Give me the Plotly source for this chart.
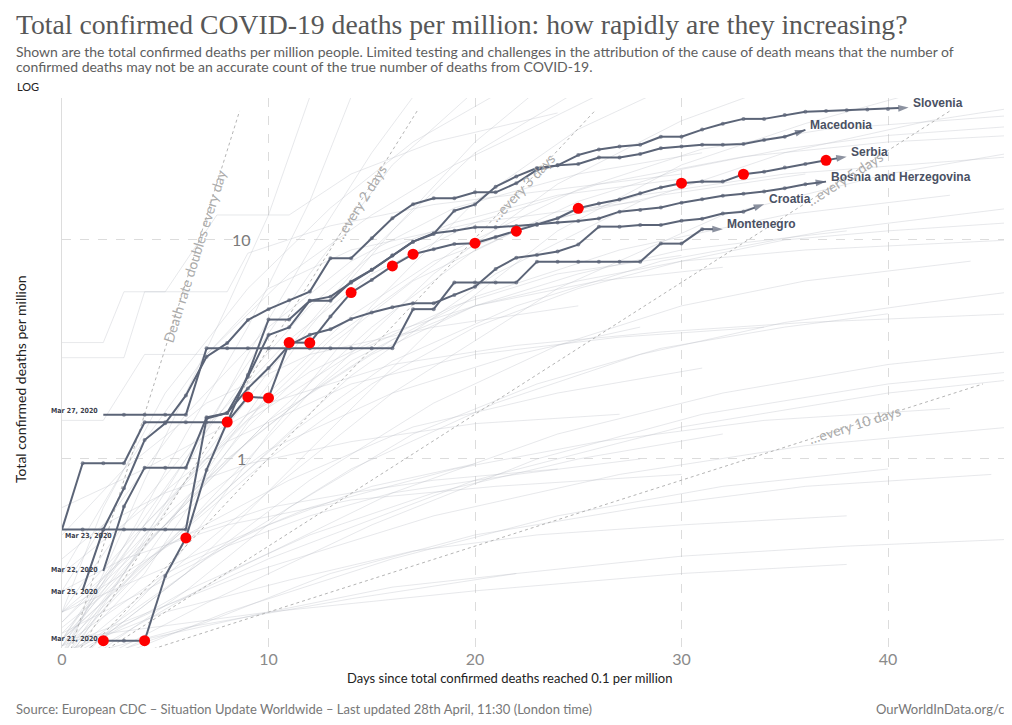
import plotly.graph_objects as go
import math

# ---------------- data ----------------
slovenia_days = list(range(0, 42))
slovenia_vals = [0.477, 0.956, 0.956, 0.956, 1.47, 1.47, 1.47, 1.47, 1.47, 2.42,
                 4.33, 4.33, 5.28, 5.51, 6.38, 7.30, 8.48, 9.82, 10.65, 13.6,
                 14.5, 17.5, 19.5, 21.3, 21.9, 24.4, 25.9, 26.7, 27.2, 29.6,
                 29.6, 31.9, 33.9, 35.7, 35.7, 37.2, 38.5, 38.8, 39.1, 39.4,
                 39.6, 40.2]

macedonia_days = list(range(1, 37))
macedonia_vals = [0.252, 0.477, 0.735, 1.22, 1.455, 1.95, 2.93, 3.38, 4.31, 4.83,
                  5.30, 5.81, 8.25, 8.25, 10.18, 12.56, 14.55, 15.5, 15.5, 16.5,
                  16.5, 18.15, 20.9, 21.9, 22.2, 23.8, 23.8, 24.7, 26.2, 26.7,
                  27.2, 27.2, 27.4, 28.6, 29.6, 31.8]

serbia_days = list(range(2, 39))
serbia_vals = [0.148, 0.148, 0.148, 0.292, 0.436, 0.891, 1.475, 1.92, 1.90, 3.40,
               3.39, 4.47, 5.75, 6.57, 7.61, 8.61, 9.07, 9.59, 9.66, 10.32,
               10.96, 11.7, 12.56, 13.95, 14.68, 15.3, 16.34, 17.37, 18.15, 18.46,
               18.46, 19.95, 20.5, 21.4, 22.2, 23.1, 24.0]
serbia_highlight_days = [2, 4, 6, 8, 9, 10, 11, 12, 14, 16, 17, 20, 22, 25, 30, 33, 37]

bosnia_days = list(range(2, 38))
bosnia_vals = [0.308, 0.606, 0.913, 0.913, 0.913, 1.55, 1.62, 2.37, 3.68, 3.99,
               5.28, 5.28, 6.45, 7.30, 8.48, 9.82, 10.73, 11.02, 11.43, 11.43,
               11.59, 11.83, 12.02, 12.2, 12.53, 13.46, 13.71, 14.07, 14.8, 15.34,
               15.93, 16.27, 16.62, 17.22, 17.96, 18.46]

croatia_days = list(range(0, 35))
croatia_vals = [0.477, 0.477, 0.477, 0.477, 0.477, 0.477, 0.477, 1.53, 1.62, 2.1,
                2.60, 3.31, 3.69, 3.91, 4.36, 4.66, 4.93, 5.14, 5.14, 5.61,
                6.12, 7.37, 8.30, 8.54, 8.86, 9.52, 11.5, 11.5, 11.7, 11.7,
                12.24, 12.5, 13.2, 13.46, 14.55]

montenegro_days = list(range(2, 33))
montenegro_vals = [1.59, 1.59, 1.59, 1.59, 1.59, 3.2, 3.2, 3.2, 3.2, 3.2,
                   3.2, 3.2, 3.2, 3.2, 3.2, 4.83, 4.83, 6.4, 6.4, 6.4,
                   6.4, 7.96, 7.96, 7.96, 7.96, 7.96, 7.96, 9.62, 9.62, 11.2,
                   11.2]

countries = ["Slovenia", "Macedonia", "Serbia", "Bosnia and Herzegovina", "Croatia", "Montenegro"]
country_days = [slovenia_days, macedonia_days, serbia_days, bosnia_days, croatia_days, montenegro_days]
country_vals = [slovenia_vals, macedonia_vals, serbia_vals, bosnia_vals, croatia_vals, montenegro_vals]

start_labels = ["Mar 27, 2020", "Mar 23, 2020", "Mar 22, 2020", "Mar 25, 2020", "Mar 21, 2020"]

doubling_periods = [1, 2, 3, 5, 10]
doubling_labels = ["Death rate doubles every day", "…every 2 days", "…every 3 days",
                   "…every 5 days", "…every 10 days"]
doubling_end_days = [8.6, 17.2, 25.8, 43.0, 44.6]
doubling_label_days = [6.4, 14.4, 22.3, 37.9, 38.4]
doubling_start_value = 0.1

# other countries (background), knots of (day, value)
bg_days = [
    [0, 2, 4, 6, 8, 10, 12], [0, 3, 6, 9, 12, 14], [0, 3, 6, 9, 12, 15, 17],
    [0, 4, 8, 12, 16, 20], [0, 4, 8, 12, 16, 20, 23], [0, 5, 10, 15, 20, 25],
    [0, 5, 10, 15, 20, 25, 29], [0, 6, 12, 18, 24, 30, 34], [0, 6, 12, 18, 24, 30, 36, 41],
    [0, 7, 14, 21, 28, 35, 42, 46], [1, 7, 13, 19, 25, 31, 37, 46],
    [0, 5, 10, 15, 20, 25, 30, 35, 40, 46], [0, 8, 16, 24, 32, 40, 46],
    [0, 2, 5, 9, 13, 17, 21], [0, 3, 7, 11, 15, 19, 22, 26],
    [0, 2, 3, 5, 7.5, 11, 14, 18, 24], [0, 3, 4, 8, 9, 13, 18, 24, 30],
    [0, 2, 4, 7, 10, 14, 20, 28],
    [0, 5, 10, 15, 20, 25, 30, 35, 40, 46], [0, 4, 8, 12, 16, 20, 25, 30, 36, 46],
    [0, 6, 12, 18, 24, 30, 36, 44], [0, 5, 10, 15, 20, 25, 30, 38],
    [0, 3, 6, 9, 12, 16, 20, 26, 32], [0, 4, 9, 14, 19, 24, 30],
    [0, 7, 14, 21, 28, 35, 42, 46], [0, 6, 11, 17, 23, 29, 35, 40],
    [0, 5, 10, 16, 22, 28], [0, 8, 16, 24, 32, 40, 46], [0, 10, 20, 30, 40, 46],
    [0, 4, 8, 14, 20, 27, 34], [0, 3, 7, 12, 18, 25], [0, 4, 10, 16, 22, 29, 36, 46],
    [0, 6, 12, 18, 25, 32], [0, 5, 10, 15, 20], [0, 8, 16, 24, 32, 40],
    [0, 4, 8, 12, 16, 22, 28], [0, 7, 13, 20, 28, 36, 45], [0, 3, 6, 10, 14, 18, 24],
    [0, 5, 11, 17, 23, 30, 38], [0, 6, 14, 22, 30, 38, 46], [0, 4, 10, 16, 22],
    [0, 10, 20, 30, 38], [0, 3, 8, 14, 21, 30], [0, 2, 5, 9, 14, 20, 27],
    [0, 6, 12, 19, 26, 34, 43], [0, 9, 18, 27, 36, 46], [0, 5, 11, 17, 24, 31],
    [0, 7, 15, 23, 31, 40, 46],
    [0, 3, 6, 9, 12, 15, 19, 24, 30], [0, 4, 7, 10, 14, 18, 23, 29, 36],
    [0, 5, 9, 13, 17, 22, 28, 35, 46], [0, 3, 7, 11, 15, 20, 26, 33, 40, 46],
    [0, 2, 6, 10, 14, 19, 25, 31], [0, 4, 9, 14, 20, 27, 35, 43],
    [0, 6, 11, 16, 22, 29, 37, 46],
]
bg_vals = [
    [0.12, 0.3, 0.8, 2, 5, 13, 45], [0.13, 0.4, 1.3, 4, 15, 45], [0.11, 0.3, 0.9, 3, 9, 25, 45],
    [0.15, 0.5, 2, 7, 22, 48], [0.12, 0.35, 1.2, 4, 11, 28, 48], [0.14, 0.6, 2.5, 9, 25, 48],
    [0.1, 0.3, 1.3, 5, 15, 32, 48], [0.13, 0.5, 2, 7, 18, 35, 48], [0.11, 0.3, 1.1, 4, 11, 22, 34, 46],
    [0.14, 0.6, 2.4, 7, 15, 25, 35, 40], [0.25, 1, 3.5, 9, 17, 26, 32, 37],
    [0.16, 0.5, 1.5, 4, 9, 15, 21, 26, 30, 33], [0.12, 0.5, 2, 6, 13, 20, 25],
    [0.2, 0.6, 2, 6, 14, 28, 46], [0.3, 0.9, 3, 7, 13, 22, 30, 46],
    [3.4, 3.4, 5.8, 5.8, 13, 13, 20, 28, 38], [2.9, 2.9, 5.8, 5.8, 8.7, 11.6, 14.5, 17, 20],
    [1.5, 1.5, 3, 3, 6, 9, 12, 15],
    [0.15, 0.4, 1, 2.2, 4, 6, 8, 10, 11, 12], [0.13, 0.4, 1, 2, 3.5, 5, 6.5, 8, 9, 10],
    [0.11, 0.3, 0.8, 1.8, 3.3, 5, 6.5, 8], [0.2, 0.5, 1.5, 3, 5, 7, 9, 11],
    [0.12, 0.3, 0.8, 1.6, 2.5, 3.8, 5, 6.5, 7.5], [0.14, 0.5, 1.5, 3, 5, 7, 8.5],
    [0.12, 0.35, 0.9, 1.8, 3, 4.2, 5.2, 5.8], [0.1, 0.25, 0.6, 1.3, 2.2, 3.2, 4, 4.6],
    [0.18, 0.5, 1.1, 2, 3, 4], [0.11, 0.3, 0.7, 1.3, 2, 2.7, 3.1], [0.13, 0.35, 0.8, 1.4, 2, 2.3],
    [0.3, 0.6, 1.2, 2.2, 3, 3.6, 4], [0.45, 0.9, 1.8, 3, 4, 5], [0.6, 0.9, 1.8, 2.7, 3.3, 3.8, 4.2, 4.6],
    [0.12, 0.25, 0.45, 0.7, 1, 1.3], [0.14, 0.3, 0.5, 0.75, 0.95], [0.1, 0.2, 0.35, 0.55, 0.75, 0.9],
    [0.16, 0.25, 0.4, 0.55, 0.7, 0.85, 1], [0.11, 0.18, 0.3, 0.45, 0.6, 0.75, 0.85], [0.2, 0.3, 0.45, 0.6, 0.7, 0.8, 0.9],
    [0.13, 0.2, 0.28, 0.38, 0.45, 0.5, 0.55], [0.12, 0.17, 0.23, 0.3, 0.36, 0.4, 0.43], [0.1, 0.15, 0.2, 0.26, 0.3],
    [0.15, 0.2, 0.25, 0.3, 0.33], [0.25, 0.35, 0.5, 0.65, 0.75, 0.85], [0.35, 0.5, 0.7, 0.95, 1.2, 1.45, 1.6],
    [0.2, 0.35, 0.6, 0.9, 1.2, 1.5, 1.7], [0.14, 0.3, 0.55, 0.85, 1.15, 1.4], [0.17, 0.4, 0.8, 1.4, 2, 2.6],
    [0.1, 0.22, 0.5, 1, 1.6, 2.2, 2.5],
    [0.15, 0.4, 1, 2.4, 5, 8.5, 12, 16, 19], [0.12, 0.3, 0.8, 2, 4.5, 8, 12, 16, 20],
    [0.15, 0.5, 1.4, 3.3, 6.5, 11, 16, 20, 24], [0.2, 0.5, 1.4, 3.5, 7, 12, 18, 24, 28, 30],
    [0.25, 0.5, 1.6, 4, 8, 14, 20, 25], [0.18, 0.45, 1.2, 2.8, 5.5, 9, 13, 16],
    [0.15, 0.5, 1.3, 2.8, 5, 8, 11, 14],
]

x_ticks = [0, 10, 20, 30, 40]
y_ticks = [1, 10]

# ---------------- geometry (screen pixels; the page body adds an 8px offset) ----------------
OFF = 8
W, H = 1012 - OFF, 725 - OFF
PLOT_LEFT, PLOT_RIGHT, PLOT_TOP, PLOT_BOTTOM = 62, 1008, 98, 648  # screen px
L = PLOT_LEFT - OFF
R = W - (PLOT_RIGHT - OFF)
T = PLOT_TOP - OFF
B = H - (PLOT_BOTTOM - OFF)
plot_w = PLOT_RIGHT - PLOT_LEFT
plot_h = PLOT_BOTTOM - PLOT_TOP
PX_PER_DAY = 20.65
X_MAX = plot_w / PX_PER_DAY
Y_LOG_MIN, Y_LOG_MAX = -0.863, 1.648


def px_x(px):
    return (px - PLOT_LEFT) / plot_w


def px_y(py):
    return (PLOT_BOTTOM - py) / plot_h


LINE_COLOR = "#5b6477"
LABEL_COLOR = "#4a5163"
BG_COLOR = "rgba(185,188,195,0.34)"

fig = go.Figure()

for d, v in zip(bg_days, bg_vals):
    fig.add_trace(go.Scatter(x=d, y=v, mode="lines", line=dict(color=BG_COLOR, width=1),
                             hoverinfo="skip", showlegend=False))

for per, end in zip(doubling_periods, doubling_end_days):
    fig.add_trace(go.Scatter(x=[0, end], y=[doubling_start_value, doubling_start_value * 2 ** (end / per)],
                             mode="lines", line=dict(color="#b5b5b5", width=1, dash="dot"),
                             hoverinfo="skip", showlegend=False))

for name, d, v in zip(countries, country_days, country_vals):
    n = len(d)
    fig.add_trace(go.Scatter(
        x=d, y=v, mode="lines+markers", name=name,
        line=dict(color=LINE_COLOR, width=2),
        marker=dict(color=LINE_COLOR, size=[4] * (n - 1) + [11],
                    symbol=["circle"] * (n - 1) + ["arrow"], angleref="previous",
                    line=dict(width=0)),
        showlegend=False))

hl_vals = [serbia_vals[serbia_days.index(dd)] for dd in serbia_highlight_days]
fig.add_trace(go.Scatter(x=serbia_highlight_days, y=hl_vals, mode="markers",
                         marker=dict(color="#ff0000", size=11), showlegend=False))

ann = []
# country labels
for name, d, v in zip(countries, country_days, country_vals):
    ann.append(dict(x=d[-1] + 0.12, y=math.log10(v[-1]), xref="x", yref="y", text=f"<b>{name}</b>",
                    showarrow=False, xanchor="left", yanchor="middle", yshift=5,
                    font=dict(family="Liberation Sans, Arial", size=12, color=LABEL_COLOR)))

# start-date labels
label_pos = [(100, 411, "right"), (63, 536, "left"), (100, 570, "right"), (100, 592, "right"), (100, 639, "right")]
for txt, (lx, ly, anc) in zip(start_labels, label_pos):
    ann.append(dict(x=px_x(lx), y=px_y(ly), xref="paper", yref="paper", text=f"<b>{txt}</b>", showarrow=False,
                    xanchor=anc, yanchor="middle",
                    font=dict(family="DejaVu Sans Condensed, DejaVu Sans", size=7, color="#3a404c")))

# doubling labels along the reference lines
for per, txt, dd in zip(doubling_periods, doubling_labels, doubling_label_days):
    slope_px = math.log10(2) / per * (plot_h / (Y_LOG_MAX - Y_LOG_MIN)) / PX_PER_DAY
    ang = -math.degrees(math.atan(slope_px))
    ann.append(dict(x=dd, y=math.log10(doubling_start_value) + math.log10(2) * dd / per, xref="x", yref="y",
                    text=txt, showarrow=False, textangle=ang, xanchor="center", yanchor="middle",
                    font=dict(family="Lato", size=14, color="#ababab")))

# y tick labels placed inside the plot
for tv in y_ticks:
    ann.append(dict(x=px_x(241), y=math.log10(tv), xref="paper", yref="y", text=str(tv), showarrow=False,
                    xanchor="center", yanchor="middle", font=dict(family="Lato", size=16, color="#7a7a7a")))

# titles and notes
ann.append(dict(x=px_x(14), y=px_y(25), xref="paper", yref="paper", xanchor="left", yanchor="middle",
                text="Total confirmed COVID-19 deaths per million: how rapidly are they increasing?",
                showarrow=False, font=dict(family="Liberation Serif", size=27.7, color="#575757")))
ann.append(dict(x=px_x(14), y=px_y(51), xref="paper", yref="paper", xanchor="left", yanchor="middle",
                text="Shown are the total confirmed deaths per million people. Limited testing and challenges in the attribution of the cause of death means that the number of",
                showarrow=False, font=dict(family="Lato", size=14, color="#5e5e5e")))
ann.append(dict(x=px_x(14), y=px_y(67), xref="paper", yref="paper", xanchor="left", yanchor="middle",
                text="confirmed deaths may not be an accurate count of the true number of deaths from COVID-19.",
                showarrow=False, font=dict(family="Lato", size=14, color="#5e5e5e")))
ann.append(dict(x=px_x(15), y=px_y(87), xref="paper", yref="paper", xanchor="left", yanchor="middle",
                text="LOG", showarrow=False, font=dict(family="Lato", size=11, color="#222222")))
ann.append(dict(x=px_x(20), y=px_y(379), xref="paper", yref="paper", xanchor="center", yanchor="middle",
                text="Total confirmed deaths per million", textangle=-90, showarrow=False,
                font=dict(family="Lato", size=14, color="#222222")))
ann.append(dict(x=px_x(509), y=px_y(678), xref="paper", yref="paper", xanchor="center", yanchor="middle",
                text="Days since total confirmed deaths reached 0.1 per million", showarrow=False,
                font=dict(family="Lato", size=13, color="#222222")))
ann.append(dict(x=px_x(14), y=px_y(709), xref="paper", yref="paper", xanchor="left", yanchor="middle",
                text="Source: European CDC – Situation Update Worldwide – Last updated 28th April, 11:30 (London time)",
                showarrow=False, font=dict(family="Lato", size=13, color="#777777")))
ann.append(dict(x=px_x(1006), y=px_y(709), xref="paper", yref="paper", xanchor="right", yanchor="middle",
                text="OurWorldInData.org/c", showarrow=False,
                font=dict(family="Lato", size=13, color="#777777")))

fig.update_layout(
    width=W, height=H, margin=dict(l=L, r=R, t=T, b=B, autoexpand=False),
    paper_bgcolor="white", plot_bgcolor="white",
    annotations=ann, showlegend=False,
    xaxis=dict(range=[0, X_MAX], tickvals=x_ticks, ticks="", showgrid=True, gridcolor="#dcdcdc",
               griddash="dash", zeroline=False, showline=False,
               tickfont=dict(family="Lato", size=16, color="#8a8a8a")),
    yaxis=dict(type="log", range=[Y_LOG_MIN, Y_LOG_MAX], tickvals=y_ticks, showticklabels=False, ticks="",
               showgrid=True, gridcolor="#dcdcdc", griddash="dash", zeroline=False,
               showline=True, linecolor="#dddddd", linewidth=1),
)

fig.write_html("out.html")
